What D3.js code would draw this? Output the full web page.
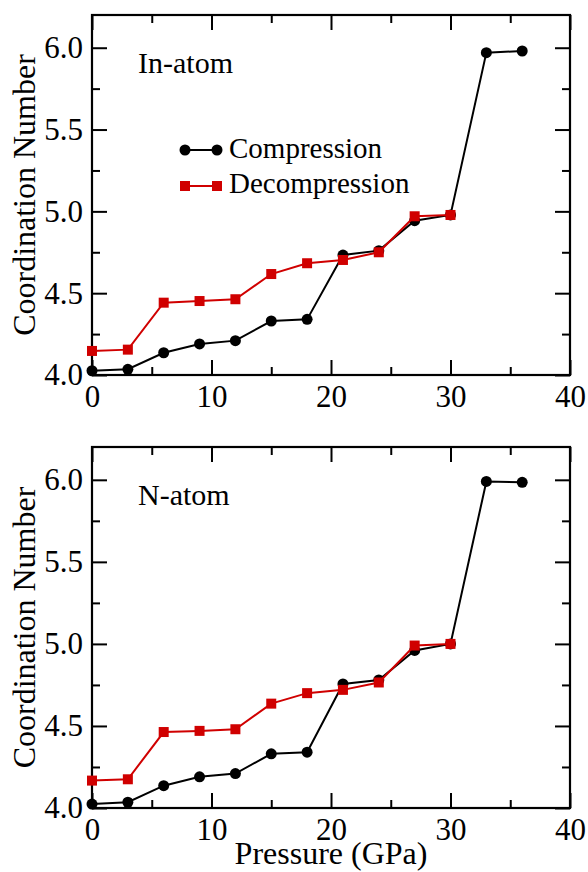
<!DOCTYPE html>
<html>
<head>
<meta charset="utf-8">
<script src="https://cdn.jsdelivr.net/npm/d3@7"></script>
<style>
  html, body { margin: 0; padding: 0; background: #fff; }
  svg { display: block; }
</style>
</head>
<body>
<svg id="chart" width="588" height="872"></svg>
<script>
// Pressure points (GPa)
const pressureComp = [0, 3, 6, 9, 12, 15, 18, 21, 24, 27, 30, 33, 36];
const pressureDecomp = [0, 3, 6, 9, 12, 15, 18, 21, 24, 27, 30];

// In-atom coordination numbers
const inCompression = [4.026, 4.035, 4.136, 4.19, 4.21, 4.33, 4.34, 4.733, 4.76, 4.943, 4.978, 5.97, 5.98];
const inDecompression = [4.147, 4.155, 4.442, 4.452, 4.463, 4.617, 4.683, 4.703, 4.75, 4.97, 4.978];

// N-atom coordination numbers
const nCompression = [4.024, 4.035, 4.136, 4.19, 4.21, 4.33, 4.34, 4.756, 4.78, 4.96, 5.0, 5.99, 5.985];
const nDecompression = [4.167, 4.175, 4.463, 4.47, 4.48, 4.636, 4.70, 4.72, 4.765, 4.99, 5.0];

// Axis ticks
const xMajorTicks = [0, 10, 20, 30, 40];
const xMinorTicks = [5, 15, 25, 35];
const yMajorTicks = [4.0, 4.5, 5.0, 5.5, 6.0];
const yMinorTicks = [4.25, 4.75, 5.25, 5.75];

const seriesNames = ["Compression", "Decompression"];
const RED = "#d00000";
const FONT = "'Liberation Serif'";

const svg = d3.select("#chart");
const left = 92, right = 570;

function addText(g, size) {
  return g.append("text")
    .attr("font-family", FONT)
    .style("font-family", FONT)
    .style("font-size", size + "px")
    .attr("fill", "#000");
}

function drawPanel(top, bottom, label, comp, decomp, showLegend, showXLabel) {
  const x = d3.scaleLinear().domain([0, 40]).range([left, right]);
  const y = d3.scaleLinear().domain([4, 6.2]).range([bottom, top]);
  const g = svg.append("g");

  const styleAxis = sel => {
    sel.attr("font-family", FONT).attr("font-size", 31);
    sel.select(".domain").remove();
    sel.selectAll("line").attr("stroke", "#000").attr("stroke-width", 2);
    sel.selectAll("text").attr("fill", "#000").style("font-family", FONT).style("font-size", "31px");
  };

  // bottom axis with labels
  g.append("g").attr("transform", `translate(0,${bottom})`)
    .call(d3.axisBottom(x).tickValues(xMajorTicks).tickSize(-15).tickPadding(10).tickFormat(d3.format("d")))
    .call(styleAxis);
  g.append("g").attr("transform", `translate(0,${bottom})`)
    .call(d3.axisBottom(x).tickValues(xMinorTicks).tickSize(-8).tickFormat(""))
    .call(styleAxis);
  // top axis, ticks only
  g.append("g").attr("transform", `translate(0,${top})`)
    .call(d3.axisTop(x).tickValues(xMajorTicks).tickSize(-15).tickFormat(""))
    .call(styleAxis);
  g.append("g").attr("transform", `translate(0,${top})`)
    .call(d3.axisTop(x).tickValues(xMinorTicks).tickSize(-8).tickFormat(""))
    .call(styleAxis);
  // left axis with labels
  g.append("g").attr("transform", `translate(${left},0)`)
    .call(d3.axisLeft(y).tickValues(yMajorTicks).tickSize(-15).tickPadding(9).tickFormat(d3.format(".1f")))
    .call(styleAxis);
  g.append("g").attr("transform", `translate(${left},0)`)
    .call(d3.axisLeft(y).tickValues(yMinorTicks).tickSize(-8).tickFormat(""))
    .call(styleAxis);
  // right axis, ticks only
  g.append("g").attr("transform", `translate(${right},0)`)
    .call(d3.axisRight(y).tickValues(yMajorTicks).tickSize(-15).tickFormat(""))
    .call(styleAxis);
  g.append("g").attr("transform", `translate(${right},0)`)
    .call(d3.axisRight(y).tickValues(yMinorTicks).tickSize(-8).tickFormat(""))
    .call(styleAxis);

  // frame
  g.append("rect")
    .attr("x", left).attr("y", top)
    .attr("width", right - left).attr("height", bottom - top)
    .attr("fill", "none").attr("stroke", "#000").attr("stroke-width", 2.2);

  // y label
  addText(g, 32)
    .attr("transform", `translate(35,${(top + bottom) / 2}) rotate(-90)`)
    .attr("text-anchor", "middle")
    .text("Coordination Number");

  // panel label
  addText(g, 30)
    .attr("x", 138).attr("y", top + 58)
    .text(label);

  const line = d3.line().x(d => x(d[0])).y(d => y(d[1]));
  const compData = pressureComp.map((p, i) => [p, comp[i]]);
  const decompData = pressureDecomp.map((p, i) => [p, decomp[i]]);

  // compression: black line with circles
  g.append("path").datum(compData)
    .attr("d", line).attr("fill", "none").attr("stroke", "#000").attr("stroke-width", 2);
  g.selectAll(".comp").data(compData).join("circle")
    .attr("cx", d => x(d[0])).attr("cy", d => y(d[1])).attr("r", 5.5).attr("fill", "#000");

  // decompression: red line with squares
  g.append("path").datum(decompData)
    .attr("d", line).attr("fill", "none").attr("stroke", RED).attr("stroke-width", 2);
  const s = 10;
  g.selectAll(".decomp").data(decompData).join("rect")
    .attr("x", d => x(d[0]) - s / 2).attr("y", d => y(d[1]) - s / 2)
    .attr("width", s).attr("height", s).attr("fill", RED);

  if (showLegend) {
    const items = [
      { name: seriesNames[0], color: "#000", shape: "circle", cy: top + 135, base: top + 143 },
      { name: seriesNames[1], color: RED, shape: "square", cy: top + 171, base: top + 178 }
    ];
    items.forEach(it => {
      g.append("line").attr("x1", 185).attr("x2", 217).attr("y1", it.cy).attr("y2", it.cy)
        .attr("stroke", it.color).attr("stroke-width", 2);
      [185, 217].forEach(cx => {
        if (it.shape === "circle") {
          g.append("circle").attr("cx", cx).attr("cy", it.cy).attr("r", 5.5).attr("fill", it.color);
        } else {
          g.append("rect").attr("x", cx - s / 2).attr("y", it.cy - s / 2).attr("width", s).attr("height", s).attr("fill", it.color);
        }
      });
      addText(g, 29).attr("x", 229).attr("y", it.base).text(it.name);
    });
  }

  if (showXLabel) {
    addText(g, 32)
      .attr("x", (left + right) / 2).attr("y", 864)
      .attr("text-anchor", "middle")
      .text("Pressure (GPa)");
  }
}

drawPanel(15, 375, "In-atom", inCompression, inDecompression, true, false);
drawPanel(447, 808, "N-atom", nCompression, nDecompression, false, true);
</script>
</body>
</html>
